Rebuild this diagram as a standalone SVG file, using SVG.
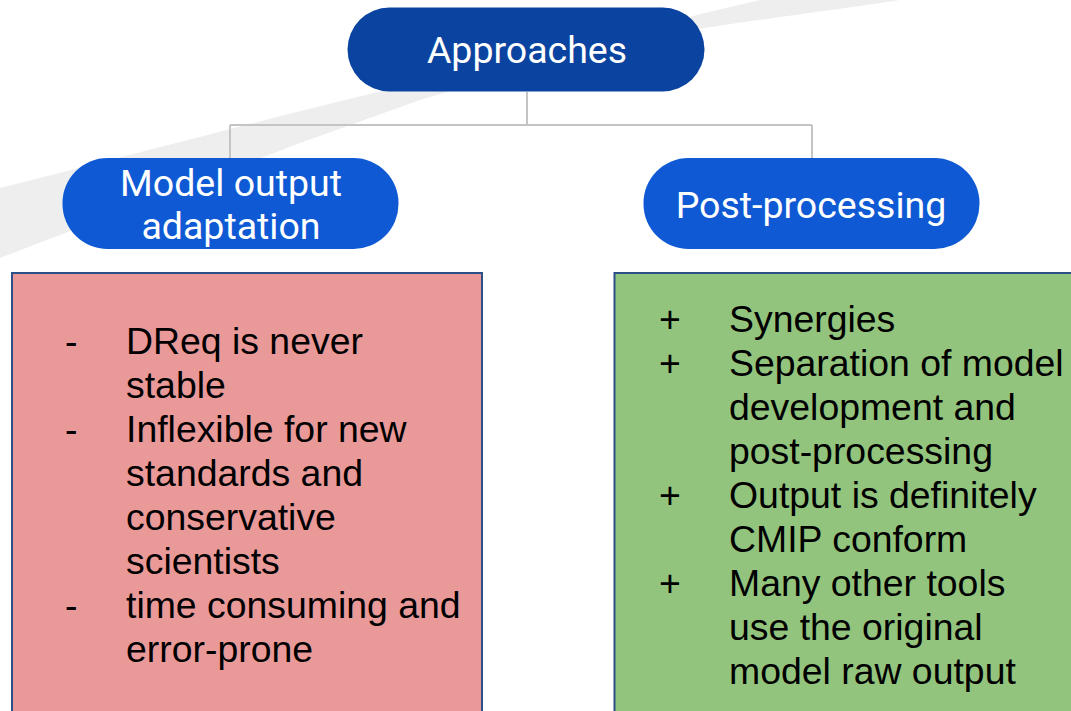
<svg xmlns="http://www.w3.org/2000/svg" width="1071" height="711" viewBox="0 0 1071 711">
<style>
.pill-text{font-family:Roboto,"Liberation Sans",sans-serif;font-size:37.5px;fill:#ffffff;text-anchor:middle}
.body{font-family:"Liberation Sans",Arial,sans-serif;font-size:37.4px;fill:#000000}
.conn{stroke:#c4c4c4;stroke-width:2;fill:none}
.box{stroke:#2b4f86;stroke-width:2}
</style>
<rect width="1071" height="711" fill="#ffffff"/>
<path id="swoosh" d="M0,188 C150,150 300,110 420,82 C540,54 650,26 760,0 L900,0 C820,12 740,22 680,32 C600,48 520,70 420,100 L300,143 L0,258 Z" fill="#eeeeee"/>
<g id="connectors">
<path class="conn" d="M527,92 V125 M230,125 H812 M230,125 V158 M812,125 V158"/>
</g>
<g id="approaches">
<rect x="347.5" y="7.5" width="357" height="84" rx="42" ry="42" fill="#0b44a0"/>
<text class="pill-text" x="527" y="63">Approaches</text>
</g>
<g id="model-output-adaptation">
<rect x="62.5" y="158" width="336" height="91" rx="45" ry="45" fill="#0f5ad4"/>
<text class="pill-text" x="231" y="196">Model output</text>
<text class="pill-text" x="231" y="239">adaptation</text>
</g>
<g id="post-processing">
<rect x="643.5" y="158" width="336" height="91" rx="45" ry="45" fill="#0f5ad4"/>
<text class="pill-text" x="811" y="218">Post-processing</text>
</g>
<g id="cons">
<rect class="box" x="12" y="273" width="470" height="450" fill="#ea9999"/>
<text class="body" x="65" y="354">-</text>
<text class="body" x="126" y="354">DReq is never</text>
<text class="body" x="126" y="398">stable</text>
<text class="body" x="65" y="442">-</text>
<text class="body" x="126" y="442">Inflexible for new</text>
<text class="body" x="126" y="486">standards and</text>
<text class="body" x="126" y="530">conservative</text>
<text class="body" x="126" y="574">scientists</text>
<text class="body" x="65" y="618">-</text>
<text class="body" x="126" y="618">time consuming and</text>
<text class="body" x="126" y="662">error-prone</text>
</g>
<g id="pros">
<rect class="box" x="614.5" y="273" width="470" height="450" fill="#93c47d"/>
<text class="body" x="659" y="332">+</text>
<text class="body" x="729" y="332">Synergies</text>
<text class="body" x="659" y="376">+</text>
<text class="body" x="729" y="376">Separation of model</text>
<text class="body" x="729" y="420">development and</text>
<text class="body" x="729" y="464">post-processing</text>
<text class="body" x="659" y="508">+</text>
<text class="body" x="729" y="508">Output is definitely</text>
<text class="body" x="729" y="552">CMIP conform</text>
<text class="body" x="659" y="596">+</text>
<text class="body" x="729" y="596">Many other tools</text>
<text class="body" x="729" y="640">use the original</text>
<text class="body" x="729" y="684">model raw output</text>
</g>
</svg>
